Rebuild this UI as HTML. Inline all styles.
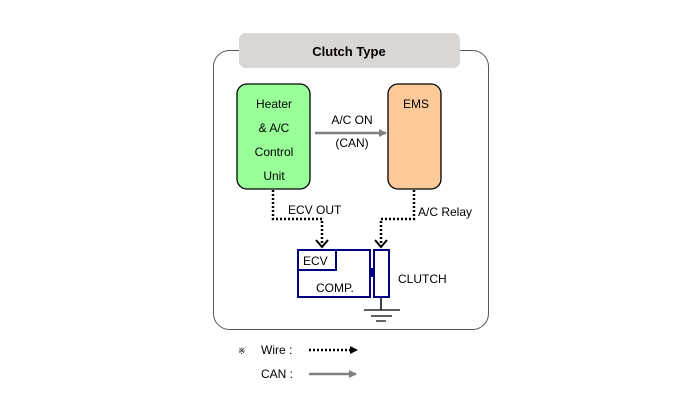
<!DOCTYPE html>
<html><head><style>
body{margin:0;background:#fff;}
svg text{font-family:"Liberation Sans",Arial,sans-serif;font-size:12px;fill:#000;}
</style></head><body>
<svg width="700" height="414" xmlns="http://www.w3.org/2000/svg">
<defs>
<marker id="g" markerWidth="8" markerHeight="8" refX="7" refY="4" orient="auto" markerUnits="userSpaceOnUse"><path d="M0,0 L8,4 L0,8 z" fill="#808080"/></marker>
<marker id="b" markerWidth="8" markerHeight="8" refX="7" refY="4" orient="auto" markerUnits="userSpaceOnUse"><path d="M0,0 L8,4 L0,8 z" fill="#000"/></marker>
</defs>
<rect x="213.5" y="50.5" width="275" height="279" rx="16" fill="#fff" stroke="#555" stroke-width="1"/>
<rect x="239" y="33" width="221" height="35" rx="7" fill="#d9d6d3"/>
<text x="349" y="56" text-anchor="middle" font-weight="bold" style="font-size:13px">Clutch Type</text>
<rect x="237" y="84" width="73" height="105" rx="10" fill="#99ff99" stroke="#000" stroke-width="1.3"/>
<text x="274" y="108" text-anchor="middle">Heater</text>
<text x="274" y="132" text-anchor="middle">&amp; A/C</text>
<text x="274" y="156" text-anchor="middle">Control</text>
<text x="274" y="180" text-anchor="middle">Unit</text>
<rect x="388" y="84" width="53" height="105" rx="10" fill="#fcca99" stroke="#000" stroke-width="1.3"/>
<text x="416" y="108" text-anchor="middle">EMS</text>
<line x1="315" y1="133" x2="386" y2="133" stroke="#808080" stroke-width="2.5" marker-end="url(#g)"/>
<text x="352" y="124" text-anchor="middle">A/C ON</text>
<text x="352" y="147" text-anchor="middle">(CAN)</text>
<polyline points="273,190 273,219 322,219 322,247" fill="none" stroke="#000" stroke-width="2.5" stroke-dasharray="2,2"/>
<polyline points="316,240 322,247 328,240" fill="none" stroke="#000" stroke-width="2"/>
<polyline points="414,190 414,219 381,219 381,247" fill="none" stroke="#000" stroke-width="2.5" stroke-dasharray="2,2"/>
<polyline points="375,240 381,247 387,240" fill="none" stroke="#000" stroke-width="2"/>
<text x="288" y="214">ECV OUT</text>
<text x="418" y="216">A/C Relay</text>
<rect x="298" y="250" width="72" height="47" fill="none" stroke="#000080" stroke-width="2"/>
<rect x="298" y="250" width="38" height="20" fill="none" stroke="#000080" stroke-width="2"/>
<text x="303" y="265">ECV</text>
<text x="316" y="292">COMP.</text>
<rect x="370" y="268" width="4" height="9" fill="#000080"/>
<rect x="374" y="250" width="15" height="47" fill="none" stroke="#000080" stroke-width="2"/>
<text x="398" y="283">CLUTCH</text>
<line x1="381" y1="298" x2="381" y2="310" stroke="#000" stroke-width="1.5"/>
<line x1="364" y1="310" x2="400" y2="310" stroke="#000" stroke-width="1.2"/>
<line x1="371" y1="316" x2="392" y2="316" stroke="#000" stroke-width="1.2"/>
<line x1="376" y1="321" x2="386" y2="321" stroke="#000" stroke-width="1.2"/>
<text x="238" y="354" style="font-size:9px">※</text>
<text x="261" y="354">Wire :</text>
<line x1="309" y1="350" x2="352" y2="350" stroke="#000" stroke-width="2.5" stroke-dasharray="2,2"/>
<path d="M350,346 L358,350 L350,354 z" fill="#000"/>
<text x="261" y="378">CAN :</text>
<line x1="309" y1="374" x2="356" y2="374" stroke="#808080" stroke-width="2.5" marker-end="url(#g)"/>
</svg>
</body></html>
